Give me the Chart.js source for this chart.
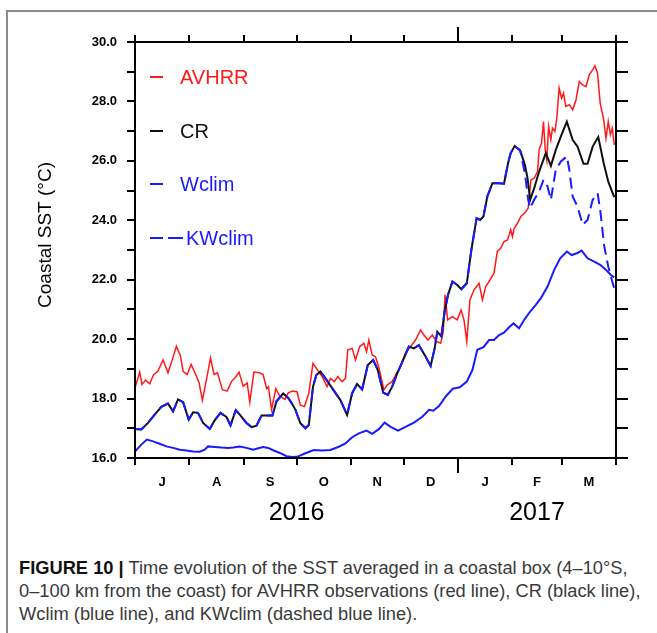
<!DOCTYPE html>
<html>
<head>
<meta charset="utf-8">
<script src="https://cdn.jsdelivr.net/npm/chart.js@4.4.0/dist/chart.umd.min.js"></script>
<style>
  body { margin: 0; background: #fff; }
  #frame { position: absolute; left: 6px; top: 10px; width: 651px; height: 623px;
           border-top: 2px solid #8c8c8c; border-left: 2px solid #8c8c8c; box-sizing: border-box; }
  #chart { position: absolute; left: 0; top: 0; }
  #cap { position: absolute; left: 19px; top: 556px; font-family: "Liberation Sans", Arial, sans-serif;
         font-size: 18.3px; line-height: 23px; color: #3a3a3a; white-space: nowrap; }
  #cap b { color: #111; }
</style>
</head>
<body>
<div id="frame"></div>
<canvas id="chart" width="657" height="530"></canvas>
<div id="cap"><b>FIGURE 10 |</b> Time evolution of the SST averaged in a coastal box (4–10°S,<br>0–100 km from the coast) for AVHRR observations (red line), CR (black line),<br>Wclim (blue line), and KWclim (dashed blue line).</div>
<script>
// days counted from 1 Jul 2016
const monthNames = ['J', 'A', 'S', 'O', 'N', 'D', 'J', 'F', 'M'];
const monthStarts = [0, 31, 62, 92, 123, 153, 184, 215, 243, 274];
const years = ['2016', '2017'];
const yearStarts = [0, 184, 274];

const avhrrDays = [0, 2.7, 4, 6, 8.4, 10.6, 13, 16, 18.8, 21, 23.6, 25.9, 27.4, 29.7, 32, 34.6, 36.5, 38.4, 40.7, 43,
  45, 47, 49.8, 52.5, 55, 57, 59.3, 61.6, 63.9, 65.4, 67.7, 70.7, 73, 75, 76, 77.8, 80.2, 82.5, 85.4, 87.3,
  89.7, 92.3, 94.2, 96.5, 99, 101.4, 104, 106.6, 109.4, 111.3, 113.6, 115.5, 118, 119.9, 121.2, 123.7, 125.6, 128, 130.4, 131.9,
  133.2, 135.1, 137, 139, 141.8, 143.7, 146.5, 149, 151.3, 154, 157, 159.8, 162.7, 164.6, 166.9, 169.4, 171.8, 174.1, 175.6, 176.6,
  178.1, 180.8, 183.6, 185.7, 187.4, 189, 190.8, 193.1, 196, 197.9, 199.8, 201.7, 204.5, 206.4, 208.3, 210.2, 212.2, 214, 215, 216,
  217.9, 219.8, 222.6, 224, 225.5, 227.4, 229.3, 230.2, 231.6, 232.7, 233.7, 234.6, 235.6, 236.9, 237.8, 239.2, 240.3, 241.6, 243, 244.1,
  245.4, 247.4, 249.3, 251.2, 253.1, 255, 256.9, 258.8, 260.7, 262, 263.5, 265, 267, 268.3, 269.6, 270.8, 271.9, 273];
const avhrrSST = [18.36, 18.89, 18.47, 18.62, 18.5, 18.8, 18.92, 19.3, 18.87, 19.26, 19.76, 19.43, 18.92, 18.81, 19.15, 18.8, 18.53, 17.94, 18.64, 19.37,
  18.81, 18.87, 18.3, 18.25, 18.58, 18.7, 18.89, 18.42, 18.53, 17.88, 18.89, 18.87, 18.81, 18.33, 18.4, 17.63, 18.33, 18.08, 17.97, 18.19,
  18.25, 18.23, 17.78, 17.73, 18.18, 19.19, 18.96, 18.74, 18.4, 18.68, 18.57, 18.74, 18.57, 18.68, 19.64, 19.69, 19.3, 19.75, 19.86, 19.58,
  19.97, 19.47, 19.41, 19.02, 18.29, 18.46, 18.57, 18.85, 19.08, 19.52, 19.75, 19.97, 20.31, 20.14, 19.97, 20.14, 19.92, 19.86, 20.25, 21.49,
  20.65, 20.76, 20.65, 20.98, 20.65, 19.92, 21.32, 21.66, 21.88, 21.32, 21.77, 21.94, 22.22, 22.95, 23.06, 23.28, 23.34, 23.68, 23.45, 23.73,
  23.9, 24.13, 24.29, 24.41, 25.36, 25.42, 25.64, 26.37, 26.6, 27.32, 26.37, 26.03, 27.16, 26.71, 27.1, 26.99, 27.44, 28.45, 28.11, 28.28,
  27.83, 27.89, 27.72, 28.05, 28.67, 28.56, 28.5, 28.9, 29.06, 29.2, 28.95, 27.94, 27.38, 26.76, 27.32, 26.88, 27.1, 26.54];

const crDays = [0, 3.6, 7.4, 11.2, 15, 18.8, 21.7, 24.5, 27.4, 30.6, 33.1, 35.9, 38.8, 42.6, 45.4, 48.7, 52.1, 54.4, 57.4, 59.7,
  63.5, 66.4, 69.2, 72.1, 75, 78.3, 80.6, 84.4, 87.3, 89.7, 91.4, 94.2, 97.1, 99, 101.4, 103.3, 105.6, 108.5, 112.3, 117,
  120.8, 123.7, 126.5, 129.4, 132.6, 135.7, 138.3, 141.4, 144, 146.5, 149.4, 153.2, 156, 158.9, 161.7, 165, 168.4, 170.7, 172.2, 174.5,
  176.4, 178.3, 180.8, 183.6, 185.9, 189, 191.6, 194.6, 196.6, 198.5, 200.7, 203.6, 207.4, 210.2, 212.5, 214, 216.3, 219.4, 222.1, 223.6,
  225.1, 227.4, 230.2, 234, 236.9, 239.7, 243, 246, 249.3, 252.1, 255.5, 257.8, 260.7, 263.9, 267, 269.6, 273];
const crSST = [16.98, 16.96, 17.18, 17.46, 17.72, 17.83, 17.57, 17.97, 17.88, 17.29, 17.54, 17.52, 17.18, 16.98, 17.27, 17.52, 17.38, 17.1, 17.61, 17.46,
  17.18, 17.04, 17.09, 17.43, 17.43, 17.43, 17.91, 18.17, 18.02, 17.8, 17.62, 17.17, 17.0, 17.11, 18.4, 18.79, 18.91, 18.68, 18.35, 17.95,
  17.45, 18.18, 18.49, 18.31, 19.13, 19.3, 18.96, 18.2, 18.12, 18.4, 18.85, 19.36, 19.75, 19.69, 19.8, 19.47, 19.1, 19.69, 20.25, 20.09,
  20.93, 21.49, 21.94, 21.82, 21.68, 21.88, 23.0, 24.07, 24.01, 24.13, 24.8, 25.25, 25.25, 25.23, 25.92, 26.26, 26.5, 26.35, 25.87, 25.42,
  24.69, 25.08, 25.64, 26.26, 25.83, 26.37, 26.88, 27.32, 26.71, 26.48, 25.9, 25.9, 26.48, 26.8, 25.92, 25.3, 24.78];

const wclimDays = [0, 3.6, 6.8, 10.3, 14, 17.9, 21.7, 25.5, 29.3, 33.1, 36.9, 39.7, 41.6, 45.4, 49.3, 53, 55.9, 59.7, 63.5, 67.3,
  70.2, 73, 75.9, 78.7, 82.5, 86.3, 89.2, 92.3, 97.1, 101.8, 106.6, 111.3, 116.1, 119.9, 123.7, 127.5, 131.9, 135.1, 138.9, 142.2,
  145.6, 149.8, 154.1, 158.9, 163.7, 167.5, 169.9, 173.2, 177, 181, 185, 189, 192.2, 195, 198.5, 201.7, 204.5, 207.4, 210.2, 213.1,
  215.6, 218.8, 221.7, 225.1, 228.3, 231.2, 235, 238.8, 242.2, 246, 248.7, 251.7, 254.4, 257.8, 261.6, 265, 268.3, 271.1, 273];
const wclimSST = [16.22, 16.45, 16.62, 16.56, 16.48, 16.39, 16.34, 16.28, 16.25, 16.22, 16.21, 16.28, 16.39, 16.37, 16.35, 16.34, 16.35, 16.39, 16.34, 16.28,
  16.33, 16.37, 16.34, 16.26, 16.17, 16.06, 16.03, 16.04, 16.16, 16.27, 16.25, 16.27, 16.38, 16.49, 16.7, 16.83, 16.92, 16.81, 16.97, 17.19,
  17.05, 16.92, 17.05, 17.19, 17.39, 17.62, 17.59, 17.75, 18.07, 18.33, 18.38, 18.57, 18.96, 19.64, 19.73, 19.97, 19.97, 20.14, 20.22, 20.4,
  20.53, 20.37, 20.65, 20.93, 21.15, 21.38, 21.77, 22.33, 22.72, 22.95, 22.83, 22.89, 22.98, 22.72, 22.61, 22.5, 22.33, 22.16, 22.08];

// KWclim follows CR until late January, then splits off
const kwTailDays = [222.1, 224, 225.1, 227.4, 230.2, 232.7, 235, 236.9, 239.7, 242.6, 246, 247.4, 249.3, 252.1, 255, 257.8,
  260.7, 263.5, 265, 267.3, 269.6, 271.1, 273];
const kwTailSST = [25.58, 24.69, 24.41, 24.69, 24.97, 25.36, 25.14, 24.69, 25.7, 25.98, 26.15, 25.7, 24.8, 24.46, 23.85, 24.01,
  24.69, 24.91, 24.35, 23.12, 22.44, 22.1, 21.71];

const FONT = '"Liberation Sans", Arial, sans-serif';
const pts = (days, vals) => days.map((d, i) => ({ x: d, y: vals[i] }));
const nShared = crDays.filter(d => d < kwTailDays[0]).length;
const kwDays = crDays.slice(0, nShared).concat(kwTailDays);
const kwSST = crSST.slice(0, nShared).concat(kwTailSST);
const monthMids = monthNames.map((m, i) => (monthStarts[i] + monthStarts[i + 1]) / 2);
const yearMids = years.map((y, i) => (yearStarts[i] + yearStarts[i + 1]) / 2);

const frameTicks = {
  id: 'frameTicks',
  afterDatasetsDraw(chart) {
    const { ctx, chartArea: a, scales: { x, y } } = chart;
    ctx.save();
    ctx.strokeStyle = '#000';
    ctx.lineWidth = 2;
    ctx.strokeRect(a.left, a.top, a.right - a.left, a.bottom - a.top);
    ctx.beginPath();
    y.ticks.forEach(t => {
      const py = Math.round(y.getPixelForValue(t.value));
      ctx.moveTo(a.left - 8, py); ctx.lineTo(a.left, py);
      ctx.moveTo(a.right, py); ctx.lineTo(a.right + 12, py);
    });
    monthStarts.forEach(d => {
      const px = Math.round(x.getPixelForValue(d));
      const len = d === yearStarts[1] ? 15 : 7;
      ctx.moveTo(px, a.bottom); ctx.lineTo(px, a.bottom + len);
      ctx.moveTo(px, a.top); ctx.lineTo(px, a.top - len);
    });
    ctx.stroke();
    ctx.restore();
  },
  afterDraw(chart) {
    const ctx = chart.ctx;
    ctx.save();
    // y title
    ctx.translate(46, 235);
    ctx.rotate(-Math.PI / 2);
    ctx.font = '19px ' + FONT;
    ctx.fillStyle = '#000';
    ctx.textAlign = 'center';
    ctx.textBaseline = 'middle';
    ctx.fillText('Coastal SST (°C)', 0, 0);
    ctx.restore();

    // legend inside plot
    const rows = [77, 131, 184, 238];
    ctx.save();
    ctx.font = '20px ' + FONT;
    ctx.textBaseline = 'middle';
    chart.data.datasets.forEach((ds, i) => {
      const yy = rows[i];
      ctx.strokeStyle = ds.borderColor;
      ctx.fillStyle = ds.borderColor;
      ctx.lineWidth = 2;
      ctx.beginPath();
      if (ds.borderDash) {
        ctx.moveTo(150, yy); ctx.lineTo(163, yy);
        ctx.moveTo(168, yy); ctx.lineTo(183, yy);
      } else {
        ctx.moveTo(150, yy); ctx.lineTo(163, yy);
      }
      ctx.stroke();
      ctx.fillText(ds.label, ds.borderDash ? 186 : 180, yy + 1);
    });
    ctx.restore();
  }
};

new Chart(document.getElementById('chart').getContext('2d'), {
  type: 'line',
  data: {
    datasets: [
      { label: 'AVHRR', data: pts(avhrrDays, avhrrSST), borderColor: '#ff1a1a', borderWidth: 1.5, order: 2 },
      { label: 'CR', data: pts(crDays, crSST), borderColor: '#111111', borderWidth: 2, order: 1 },
      { label: 'Wclim', data: pts(wclimDays, wclimSST), borderColor: '#1a1aff', borderWidth: 2, order: 3 },
      { label: 'KWclim', data: pts(kwDays, kwSST), borderColor: '#1a1aff', borderWidth: 2, borderDash: [11, 6], order: 0 }
    ]
  },
  options: {
    responsive: false,
    animation: false,
    layout: { padding: { left: 0, top: 42, right: 41, bottom: 0 } },
    elements: { point: { radius: 0 }, line: { tension: 0 } },
    plugins: { legend: { display: false }, tooltip: { enabled: false } },
    scales: {
      x: {
        type: 'linear', min: 0, max: 274, position: 'bottom', weight: 1,
        grid: { display: false, drawTicks: false }, border: { display: false },
        afterBuildTicks: s => { s.ticks = monthMids.map(v => ({ value: v })); },
        ticks: { autoSkip: false, maxRotation: 0, padding: 17, color: '#000',
                 font: { family: FONT, size: 13, weight: 'bold' },
                 callback: (v, i) => monthNames[i] },
        afterFit: s => { s.height = 38; }
      },
      x2: {
        type: 'linear', min: 0, max: 274, position: 'bottom', weight: 2,
        grid: { display: false, drawTicks: false }, border: { display: false },
        afterBuildTicks: s => { s.ticks = yearMids.map(v => ({ value: v })); },
        ticks: { autoSkip: false, maxRotation: 0, padding: 2, color: '#000',
                 font: { family: FONT, size: 25 },
                 callback: (v, i) => years[i] },
        afterFit: s => { s.height = 34; }
      },
      y: {
        min: 16, max: 30,
        grid: { display: false, drawTicks: false }, border: { display: false },
        ticks: { stepSize: 1, padding: 18, color: '#000',
                 font: { family: FONT, size: 13, weight: 'bold' },
                 callback: v => (v % 2 === 0 ? v.toFixed(1) : '') },
        afterFit: s => { s.width = 135; }
      }
    }
  },
  plugins: [frameTicks]
});
</script>
</body>
</html>
